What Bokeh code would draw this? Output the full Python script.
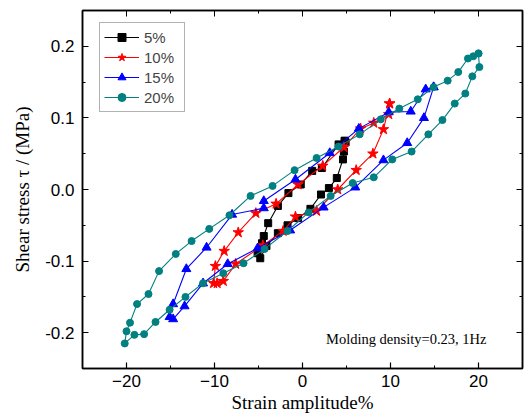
from bokeh.plotting import figure
from bokeh.models import LinearAxis, Label, Range1d, SingleIntervalTicker, NumeralTickFormatter, CustomJSTickFormatter
from bokeh.embed import file_html
from bokeh.resources import INLINE

# 5% strain amplitude
strain_5 = [4.8, 4.1, 2.2, 1.1, -0.2, -1.6, -2.8, -3.9, -4.4, -4.6, -5.1, -4.8, -4.1, -2.8,
            -1.7, -0.5, 0.9, 2.1, 3.0, 3.9, 4.6, 4.7, 4.9, 4.8]
stress_5 = [0.068, 0.063, 0.030, 0.026, 0.007, -0.005, -0.023, -0.047, -0.065, -0.075, -0.089,
            -0.096, -0.079, -0.061, -0.050, -0.040, -0.027, -0.007, 0.002, 0.016, 0.042, 0.053,
            0.066, 0.068]

# 10%
strain_10 = [9.9, 9.8, 8.1, 6.6, 4.7, 2.3, -0.5, -3.0, -5.3, -7.3, -8.9, -9.9, -10.1, -9.7,
             -9.0, -7.6, -4.5, -2.2, -0.8, 1.6, 4.0, 6.1, 8.0, 9.2, 9.9]
stress_10 = [0.120, 0.105, 0.093, 0.085, 0.059, 0.033, 0.007, -0.020, -0.033, -0.060, -0.086,
             -0.107, -0.131, -0.131, -0.128, -0.104, -0.078, -0.058, -0.038, -0.030, 0.000,
             0.027, 0.050, 0.084, 0.120]

# 15%
strain_15 = [14.9, 14.0, 12.3, 9.8, 6.4, 3.1, -0.8, -4.4, -4.4, -8.0, -10.9, -13.2, -14.7,
             -15.1, -14.7, -13.4, -11.3, -8.5, -5.1, -1.4, 2.4, 6.0, 9.2, 11.9, 13.8, 14.9]
stress_15 = [0.143, 0.140, 0.109, 0.108, 0.085, 0.051, 0.014, -0.016, -0.026, -0.035, -0.081,
             -0.111, -0.160, -0.178, -0.181, -0.163, -0.131, -0.104, -0.082, -0.057, -0.025,
             0.003, 0.041, 0.065, 0.100, 0.143]

# 20%
strain_20 = [20.0, 19.4, 18.8, 17.7, 16.5, 14.9, 13.1, 11.0, 8.9, 6.5, 4.1, 1.6, -0.9, -3.4,
             -5.9, -8.3, -10.6, -12.6, -14.4, -16.3, -17.5, -18.8, -19.6, -20.0, -20.2, -19.1,
             -18.0, -16.7, -15.1, -13.3, -11.3, -9.0, -6.7, -4.3, -1.7, 0.7, 3.2, 5.7, 8.1,
             10.2, 12.4, 14.3, 15.9, 17.3, 18.5, 19.3, 20.1, 20.0]
stress_20 = [0.190, 0.186, 0.183, 0.164, 0.152, 0.143, 0.126, 0.113, 0.098, 0.077, 0.060,
             0.044, 0.027, 0.005, -0.009, -0.036, -0.055, -0.072, -0.090, -0.114, -0.146,
             -0.160, -0.186, -0.198, -0.215, -0.203, -0.202, -0.185, -0.168, -0.150, -0.131,
             -0.117, -0.103, -0.083, -0.058, -0.032, -0.009, 0.009, 0.017, 0.042, 0.053, 0.077,
             0.097, 0.120, 0.134, 0.158, 0.171, 0.190]

labels = ["5%", "10%", "15%", "20%"]
colors = ["#000000", "#FF0000", "#0000FF", "#008080"]
markers = ["square", "star", "triangle", "circle"]
sizes = [7, 11, 9, 7]

p = figure(width=524, height=417, output_backend="svg", toolbar_location=None,
           x_range=Range1d(-25, 25), y_range=Range1d(-0.25, 0.25),
           min_border_left=82, min_border_right=2, min_border_top=10, min_border_bottom=49,
           x_axis_label="Strain amplitude%", y_axis_label="Shear stress τ / (MPa)")
p.grid.visible = False
p.background_fill_color = "white"
p.border_fill_color = "white"
p.outline_line_color = "black"
p.outline_line_width = 1.5

series = [(strain_5, stress_5), (strain_10, stress_10), (strain_15, stress_15), (strain_20, stress_20)]
for (xs, ys), lab, col, mk, sz in zip(series, labels, colors, markers, sizes):
    p.line(xs, ys, line_color=col, line_width=1.1, legend_label=lab)
    p.scatter(xs, ys, marker=mk, size=sz, fill_color=col, line_color=col, legend_label=lab)

p.xaxis.ticker = SingleIntervalTicker(interval=10, num_minor_ticks=2)
p.yaxis.ticker = SingleIntervalTicker(interval=0.1, num_minor_ticks=2)
p.yaxis.formatter = NumeralTickFormatter(format="0.0")

for ax in [p.xaxis[0], p.yaxis[0]]:
    ax.major_tick_in = 6
    ax.major_tick_out = 0
    ax.minor_tick_in = 3
    ax.minor_tick_out = 0
    ax.axis_line_width = 1.5
    ax.major_tick_line_width = 1.2
    ax.major_label_text_font = "Liberation Sans"
    ax.major_label_text_font_size = "17px"
    ax.major_label_text_color = "black"
    ax.axis_label_text_font = "Liberation Serif"
    ax.axis_label_text_font_size = "19px"
    ax.axis_label_text_font_style = "normal"
    ax.axis_label_text_color = "black"

p.xaxis.major_label_standoff = 6
p.xaxis.axis_label_standoff = 2
p.yaxis.major_label_standoff = 8
p.yaxis.axis_label_standoff = 9

top = LinearAxis(ticker=SingleIntervalTicker(interval=10, num_minor_ticks=2))
right = LinearAxis(ticker=SingleIntervalTicker(interval=0.1, num_minor_ticks=2))
for ax in [top, right]:
    ax.major_tick_in = 6
    ax.major_tick_out = 0
    ax.minor_tick_in = 3
    ax.minor_tick_out = 0
    ax.axis_line_width = 1.5
    ax.formatter = CustomJSTickFormatter(code="return ''")
    ax.major_label_text_color = None
    ax.major_label_text_font_size = "1px"
    ax.major_label_standoff = 0
p.add_layout(top, "above")
p.add_layout(right, "right")

p.legend.location = (17, 256)
p.legend.label_text_font = "Liberation Sans"
p.legend.label_text_font_size = "15px"
p.legend.glyph_width = 35
p.legend.glyph_height = 20
p.legend.label_height = 20
p.legend.label_width = 36
p.legend.label_standoff = 5
p.legend.spacing = 0
p.legend.padding = 4
p.legend.margin = 0
p.legend.border_line_color = "#666666"
p.legend.border_line_width = 1
p.legend.background_fill_alpha = 1

note = Label(x=20.9, y=-0.209, text="Molding density=0.23, 1Hz", text_align="right",
             text_baseline="middle", text_font="Liberation Serif", text_font_size="14.5px",
             text_color="black")
p.add_layout(note)

open("out.html", "w").write(file_html(p, INLINE))
